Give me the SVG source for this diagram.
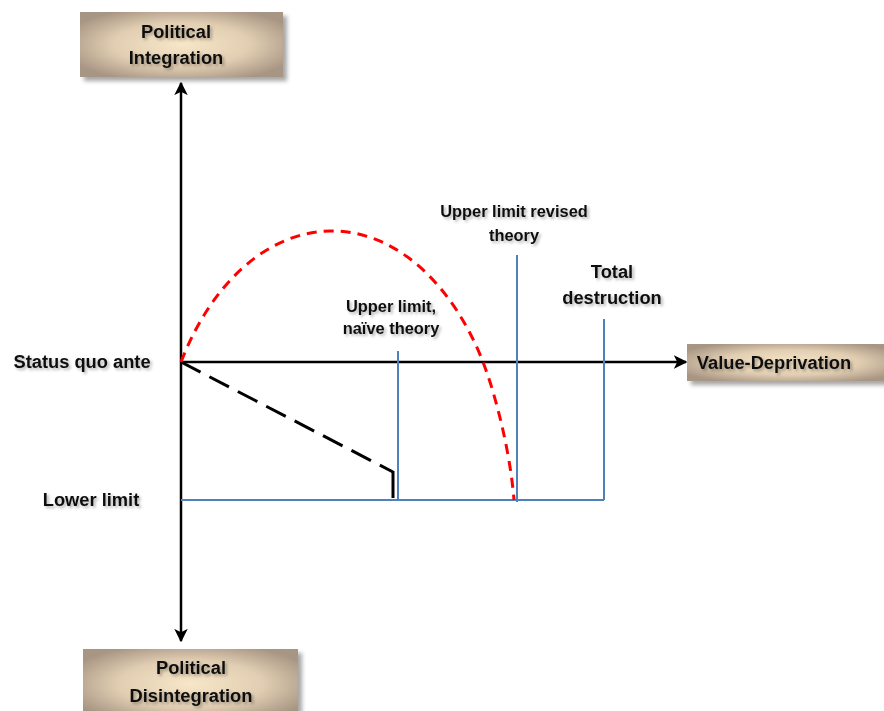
<svg xmlns="http://www.w3.org/2000/svg" width="884" height="711" viewBox="0 0 884 711">
<style>
.lbl{font-family:"Liberation Sans",Arial,sans-serif;font-weight:bold;fill:#111;text-anchor:middle;filter:url(#glow)}
.big{font-size:18.3px}
.sm{font-size:16.4px}
.axis{stroke:#000;stroke-width:2.5;fill:none}
.blue{stroke:#4f81bd;stroke-width:2;fill:none}
.box{fill:url(#bg);filter:url(#sh)}
</style>
<defs>
<radialGradient id="bg" cx="0.5" cy="0.5" r="0.6">
<stop offset="0" stop-color="#f8e6c8"/>
<stop offset="0.55" stop-color="#e2cfb3"/>
<stop offset="1" stop-color="#a89684"/>
</radialGradient>
<filter id="sh" x="-10%" y="-20%" width="130%" height="160%">
<feDropShadow dx="4" dy="4" stdDeviation="2" flood-color="#000" flood-opacity="0.35"/>
</filter>
<filter id="glow" x="-10%" y="-30%" width="130%" height="180%">
<feDropShadow dx="2" dy="2" stdDeviation="1.5" flood-color="#000" flood-opacity="0.3"/>
</filter>
<marker id="ah" viewBox="0 0 10 10" refX="9" refY="5" markerWidth="5.4" markerHeight="5.4" orient="auto-start-reverse" markerUnits="strokeWidth">
<path d="M0,0 L10,5 L0,10 L2.5,5 z" fill="#000"/>
</marker>
</defs>
<rect width="884" height="711" fill="#fff"/>
<g id="connectors">
<line class="axis" x1="181" y1="641" x2="181" y2="83" marker-end="url(#ah)" marker-start="url(#ah)"/>
<line class="axis" x1="181" y1="362" x2="686" y2="362" marker-end="url(#ah)"/>
<line class="blue" x1="181" y1="500" x2="604" y2="500"/>
<line class="blue" x1="398" y1="351" x2="398" y2="500"/>
<line class="blue" x1="517" y1="255" x2="517" y2="502"/>
<line class="blue" x1="604" y1="319" x2="604" y2="500"/>
<path d="M181,362 L393,472" stroke="#000" stroke-width="3" stroke-dasharray="22,10" fill="none"/>
<path d="M393,471 L393,498" stroke="#000" stroke-width="3" fill="none"/>
<path d="M181,362 C212,282 268,232 330,231 C400,230 455,290 483,362 C495,393 510,450 514,500" stroke="#f00" stroke-width="3" stroke-dasharray="10,7" fill="none"/>
</g>
<g id="node-integration">
<rect class="box" x="80" y="12" width="203" height="65"/>
<text class="lbl big" x="176" y="38">Political</text>
<text class="lbl big" x="176" y="64">Integration</text>
</g>
<g id="node-disintegration">
<rect class="box" x="83" y="649" width="215" height="70"/>
<text class="lbl big" x="191" y="674">Political</text>
<text class="lbl big" x="191" y="702">Disintegration</text>
</g>
<g id="node-value">
<rect class="box" x="687" y="344" width="205" height="37"/>
<text class="lbl big" x="774" y="369">Value-Deprivation</text>
</g>
<g id="label-status">
<text class="lbl big" x="82" y="368">Status quo ante</text>
</g>
<g id="label-lower">
<text class="lbl big" x="91" y="506">Lower limit</text>
</g>
<g id="label-naive">
<text class="lbl sm" x="391" y="312">Upper limit,</text>
<text class="lbl sm" x="391" y="334">naïve theory</text>
</g>
<g id="label-revised">
<text class="lbl sm" x="514" y="217">Upper limit revised</text>
<text class="lbl sm" x="514" y="241">theory</text>
</g>
<g id="label-total">
<text class="lbl big" x="612" y="278">Total</text>
<text class="lbl big" x="612" y="304">destruction</text>
</g>
</svg>
